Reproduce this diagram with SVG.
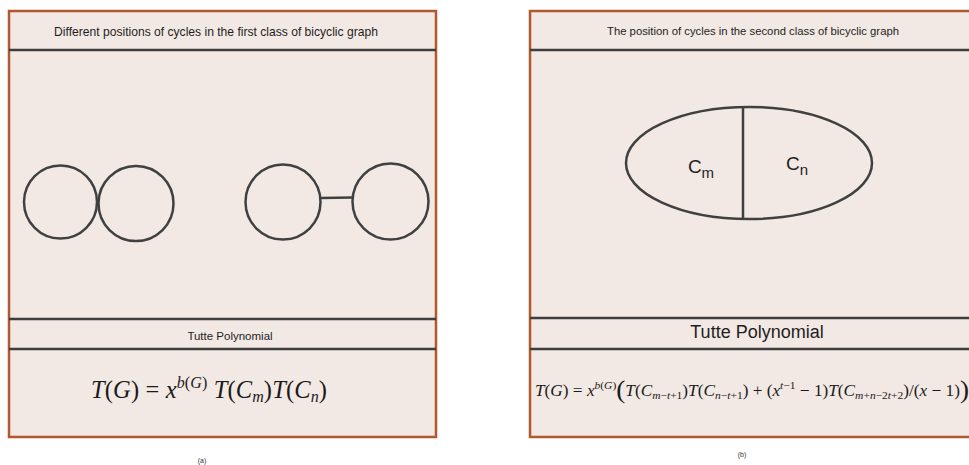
<svg xmlns="http://www.w3.org/2000/svg" width="969" height="465" viewBox="0 0 969 465">
<style>
.panel{fill:#f2e8e4;stroke:#b0582e;stroke-width:2.5}
.sep{stroke:#3e3e3e;stroke-width:2.5}
.cyc{fill:none;stroke:#404040;stroke-width:2.5}
.hdr{font-family:"Liberation Sans",Arial,sans-serif;fill:#1e1e1e;text-anchor:middle}
.math{font-family:"Liberation Serif","Times New Roman",serif;fill:#1a1a1a}
.it{font-style:italic}
.cap{font-family:"Liberation Sans",Arial,sans-serif;font-size:7px;fill:#333;text-anchor:middle}
</style>
<rect width="969" height="465" fill="#ffffff"/>
<g id="panel-a">
<rect class="panel" x="9" y="11" width="427" height="426"/>
<line class="sep" x1="9" y1="50" x2="436" y2="50"/>
<line class="sep" x1="9" y1="319" x2="436" y2="319"/>
<line class="sep" x1="9" y1="349" x2="436" y2="349"/>
<text class="hdr" x="216" y="36" font-size="12.1">Different positions of cycles in the first class of bicyclic graph</text>
<text class="hdr" x="230" y="340" font-size="11.5">Tutte Polynomial</text>
<text class="math" x="91" y="398" font-size="24.5" textLength="236" lengthAdjust="spacing"><tspan class="it">T</tspan>(<tspan class="it">G</tspan>) = <tspan class="it">x</tspan><tspan class="it" font-size="16" dy="-10">b</tspan><tspan font-size="16">(</tspan><tspan class="it" font-size="16">G</tspan><tspan font-size="16">)</tspan><tspan dy="10"> </tspan><tspan class="it">T</tspan>(<tspan class="it">C</tspan><tspan class="it" font-size="16" dy="4">m</tspan><tspan dy="-4">)</tspan><tspan class="it">T</tspan>(<tspan class="it">C</tspan><tspan class="it" font-size="16" dy="4">n</tspan><tspan dy="-4">)</tspan></text>
<text class="cap" x="202" y="463">(a)</text>
</g>
<g id="panel-b">
<rect class="panel" x="530" y="11" width="445" height="426"/>
<line class="sep" x1="530" y1="50" x2="969" y2="50"/>
<line class="sep" x1="530" y1="318" x2="969" y2="318"/>
<line class="sep" x1="530" y1="349" x2="969" y2="349"/>
<text class="hdr" x="753" y="35" font-size="11.3">The position of cycles in the second class of bicyclic graph</text>
<text class="hdr" x="757" y="338" font-size="18">Tutte Polynomial</text>
<text class="math" x="535" y="396" font-size="16.5" textLength="434" lengthAdjust="spacingAndGlyphs"><tspan class="it">T</tspan>(<tspan class="it">G</tspan>) = <tspan class="it">x</tspan><tspan class="it" font-size="11" dy="-7">b</tspan><tspan font-size="11">(</tspan><tspan class="it" font-size="11">G</tspan><tspan font-size="11">)</tspan><tspan font-size="26" dy="9">(</tspan><tspan class="it" dy="-2">T</tspan>(<tspan class="it">C</tspan><tspan class="it" font-size="11" dy="3">m</tspan><tspan font-size="11">−</tspan><tspan class="it" font-size="11">t</tspan><tspan font-size="11">+1</tspan><tspan dy="-3">)</tspan><tspan class="it">T</tspan>(<tspan class="it">C</tspan><tspan class="it" font-size="11" dy="3">n</tspan><tspan font-size="11">−</tspan><tspan class="it" font-size="11">t</tspan><tspan font-size="11">+1</tspan><tspan dy="-3">) + (</tspan><tspan class="it">x</tspan><tspan class="it" font-size="11" dy="-7">t</tspan><tspan font-size="11">−1</tspan><tspan dy="7"> − 1)</tspan><tspan class="it">T</tspan>(<tspan class="it">C</tspan><tspan class="it" font-size="11" dy="3">m</tspan><tspan font-size="11">+</tspan><tspan class="it" font-size="11">n</tspan><tspan font-size="11">−2</tspan><tspan class="it" font-size="11">t</tspan><tspan font-size="11">+2</tspan><tspan dy="-3">)/(</tspan><tspan class="it">x</tspan> − 1)<tspan font-size="26" dy="2">)</tspan></text>
<text class="cap" x="742" y="457">(b)</text>
</g>
<g id="cycle-a1"><circle class="cyc" cx="60.5" cy="202" r="36.5"/></g>
<g id="cycle-a2"><circle class="cyc" cx="136" cy="203.5" r="37.5"/></g>
<g id="cycle-a3"><circle class="cyc" cx="283" cy="202" r="37.5"/></g>
<g id="cycle-a4"><circle class="cyc" cx="390.5" cy="201.5" r="38"/></g>
<g id="theta-b">
<ellipse class="cyc" cx="749" cy="163" rx="123" ry="56"/>
<text class="hdr" x="701" y="173" font-size="19">C<tspan font-size="15" dy="5">m</tspan></text>
<text class="hdr" x="797" y="170" font-size="19">C<tspan font-size="15" dy="5">n</tspan></text>
</g>
<g id="connectors">
<line class="cyc" x1="320.5" y1="198" x2="352.5" y2="197.5"/>
<line class="cyc" x1="743" y1="107" x2="743" y2="219"/>
</g>
</svg>
